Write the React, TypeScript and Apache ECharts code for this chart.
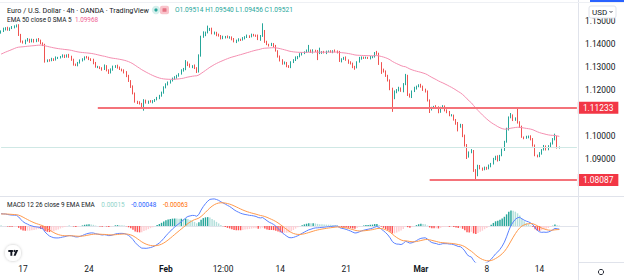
import React, { useEffect, useRef } from "react";
import * as echarts from "echarts";

// ---- data (EUR/USD, 4h) ----
const firstOpen = 1.145;
const closes = [
  1.1455, 1.1465, 1.147, 1.1462, 1.1468, 1.1472, 1.1478, 1.148, 1.144, 1.141,
  1.1405, 1.1415, 1.142, 1.141, 1.1418, 1.1412, 1.142, 1.1415, 1.1402, 1.1395,
  1.1325, 1.133, 1.1328, 1.1335, 1.1332, 1.134, 1.134, 1.1345, 1.135, 1.1345,
  1.1352, 1.1345, 1.133, 1.1312, 1.1308, 1.1318, 1.1328, 1.1335, 1.1342, 1.134,
  1.1335, 1.133, 1.1318, 1.13, 1.13, 1.1295, 1.129, 1.1305, 1.1285, 1.1275,
  1.129, 1.13, 1.1305, 1.1298, 1.129, 1.1285, 1.1278, 1.126, 1.124, 1.1215,
  1.1185, 1.115, 1.1145, 1.114, 1.113, 1.1155, 1.1145, 1.115, 1.1148, 1.1152,
  1.1158, 1.1165, 1.1175, 1.119, 1.121, 1.1225, 1.1232, 1.124, 1.125, 1.1255,
  1.1262, 1.127, 1.1285, 1.129, 1.132, 1.131, 1.13, 1.1305, 1.1295, 1.128,
  1.135, 1.143, 1.144, 1.145, 1.1462, 1.1465, 1.1445, 1.145, 1.144, 1.1435,
  1.1425, 1.143, 1.1432, 1.1428, 1.143, 1.142, 1.141, 1.1415, 1.142, 1.1418,
  1.1425, 1.143, 1.1435, 1.1432, 1.144, 1.1438, 1.1435, 1.142, 1.1435, 1.1455,
  1.141, 1.1398, 1.1395, 1.14, 1.139, 1.137, 1.1345, 1.133, 1.1315, 1.1318,
  1.1305, 1.13, 1.132, 1.133, 1.134, 1.1345, 1.1355, 1.136, 1.1365, 1.137,
  1.1372, 1.1365, 1.1372, 1.1368, 1.136, 1.1362, 1.1365, 1.1362, 1.1368, 1.1368,
  1.1365, 1.137, 1.1368, 1.1365, 1.1325, 1.1335, 1.134, 1.133, 1.132, 1.1315,
  1.13, 1.1298, 1.1322, 1.1338, 1.1342, 1.134, 1.134, 1.1338, 1.1342, 1.1345,
  1.136, 1.1358, 1.1315, 1.129, 1.128, 1.1262, 1.124, 1.1205, 1.1165, 1.119,
  1.12, 1.1208, 1.1195, 1.1225, 1.1262, 1.118, 1.117, 1.1195, 1.1208, 1.1215,
  1.1222, 1.1215, 1.12, 1.1195, 1.1155, 1.1115, 1.1122, 1.1128, 1.1125, 1.1105,
  1.1122, 1.113, 1.111, 1.1105, 1.109, 1.109, 1.107, 1.1055, 1.104, 1.1048,
  1.1, 1.096, 1.091, 1.093, 1.0935, 1.085, 1.084, 1.087, 1.086, 1.0855,
  1.0862, 1.0858, 1.087, 1.088, 1.09, 1.091, 1.0895, 1.0915, 1.094, 1.0975,
  1.103, 1.108, 1.109, 1.107, 1.1075, 1.106, 1.104, 1.0995, 1.0992, 1.0995,
  1.0998, 1.0985, 1.096, 1.0915, 1.0912, 1.0925, 1.094, 1.0955, 1.0942, 1.0955,
  1.0968, 1.0985, 1.0995, 1.09514, 1.09521,
];
const upWicksPips = [
  4, 6, 3, 5, 4, 6, 3, 5, 6, 4, 5, 4, 6, 3, 5, 4, 3, 6, 4, 5,
  6, 3, 4, 5, 3, 6, 4, 3, 5, 4, 3, 5, 4, 6, 3, 4, 5, 3, 4, 6,
  5, 3, 6, 4, 5, 3, 4, 6, 3, 5, 4, 6, 3, 5, 4, 3, 5, 4, 6, 3,
  5, 4, 3, 6, 4, 5, 3, 4, 6, 4, 3, 5, 4, 3, 6, 4, 5, 3, 4, 5,
  4, 3, 5, 6, 10, 4, 5, 3, 6, 4, 5, 6, 15, 4, 18, 5, 6, 4, 3, 5,
  4, 6, 3, 5, 4, 3, 6, 4, 5, 3, 5, 4, 6, 3, 5, 4, 3, 6, 4, 35,
  6, 4, 3, 5, 4, 6, 3, 5, 4, 6, 4, 3, 5, 4, 6, 3, 5, 4, 3, 6,
  24, 4, 5, 3, 6, 22, 4, 5, 3, 4, 5, 3, 6, 4, 5, 3, 4, 6, 3, 5,
  4, 5, 3, 6, 4, 3, 5, 4, 6, 3, 5, 10, 4, 6, 3, 5, 4, 6, 5, 8,
  4, 6, 3, 5, 8, 4, 5, 3, 6, 4, 3, 5, 4, 6, 3, 4, 5, 3, 6, 4,
  5, 4, 3, 6, 4, 5, 3, 4, 6, 5, 4, 6, 5, 3, 8, 4, 6, 5, 4, 3,
  5, 4, 6, 3, 5, 4, 6, 3, 5, 4, 6, 5, 10, 4, 6, 45, 4, 5, 3, 6,
  4, 5, 6, 3, 4, 5, 3, 6, 4, 5, 4, 6, 15, 5, 1.9,
];
const downWicksPips = [
  5, 3, 6, 4, 5, 3, 4, 6, 5, 4, 3, 6, 4, 5, 3, 6, 4, 5, 3, 4,
  6, 4, 5, 3, 6, 4, 5, 3, 4, 6, 4, 5, 3, 6, 4, 5, 3, 4, 6, 3,
  5, 4, 6, 3, 5, 4, 6, 3, 4, 5, 3, 6, 4, 5, 3, 4, 6, 4, 5, 6,
  4, 5, 6, 3, 10, 20, 4, 5, 3, 6, 4, 3, 5, 4, 6, 3, 5, 4, 3, 5,
  6, 4, 3, 5, 4, 6, 3, 5, 4, 6, 4, 5, 3, 6, 4, 5, 3, 4, 6, 3,
  5, 4, 6, 3, 5, 4, 3, 6, 4, 5, 3, 5, 4, 6, 3, 5, 4, 3, 6, 4,
  5, 3, 6, 4, 5, 3, 4, 6, 5, 4, 6, 4, 5, 3, 4, 6, 3, 5, 4, 3,
  5, 4, 6, 3, 30, 4, 5, 3, 6, 4, 3, 5, 4, 6, 3, 5, 4, 3, 6, 4,
  5, 10, 4, 3, 6, 5, 4, 3, 5, 4, 4, 5, 6, 20, 4, 5, 3, 6, 60, 5,
  4, 6, 3, 5, 4, 6, 3, 5, 4, 6, 3, 5, 4, 6, 5, 15, 4, 3, 5, 6,
  4, 5, 3, 6, 4, 5, 3, 6, 20, 4, 5, 6, 10, 4, 5, 6, 34, 15, 5, 6,
  4, 5, 3, 6, 4, 5, 6, 4, 3, 5, 4, 6, 3, 5, 4, 6, 5, 3, 6, 4,
  5, 4, 6, 3, 5, 4, 6, 3, 5, 4, 3, 5, 4, 6, 5.8,
];
const PIP = 0.0001;

// indicator starting values read at the left edge
const ema50Seed = 1.1352;
const ema12Seed = 1.1444;
const ema26Seed = 1.1416;
const signalSeed = 0.0026;

const emptyBarsRight = 8;
const xTickLabels = ["17", "24", "Feb", "12:00", "14", "21", "Mar", "8", "14"];
const xTickBars = [10, 40, 75, 101, 127, 157, 191, 221, 245];
const boldTickLabels = ["Feb", "Mar"];

const levelValues = [1.11233, 1.08087];
const levelStartBars = [44, 195];

const priceMin = 1.07;
const priceMax = 1.158;
const priceStep = 0.01;
const macdMin = -0.0078;
const macdMax = 0.0063;

const legendTitle = "Euro / U.S. Dollar · 4h · OANDA · TradingView";
const legendOHLC = "O1.09514 H1.09540 L1.09456 C1.09521";
const legendEma = "EMA 50 close 0 SMA 5";
const legendEmaValue = "1.09968";
const legendMacd = "MACD 12 26 close 9 EMA EMA";
const legendMacdValues = ["0.00015", "-0.00048", "-0.00063"];

const FONT = 'Roboto, "Noto Sans", sans-serif';
const UP = "#26a69a";
const DOWN = "#ef5350";

function emaOf(values: number[], period: number, seed: number) {
  const a = 2 / (period + 1);
  let e = seed;
  return values.map((v) => (e = e + a * (v - e)));
}

export default function App() {
  const ref = useRef<HTMLDivElement>(null);
  useEffect(() => {
    if (!ref.current) return;
    const chart = echarts.init(ref.current, null, { renderer: "svg" });

    const n = closes.length;
    const total = n + emptyBarsRight;
    const categories = Array.from({ length: total }, (_, i) => String(i));
    const opens = closes.map((c, i) => (i === 0 ? firstOpen : closes[i - 1]));
    const candleData = closes.map((c, i) => {
      const o = opens[i];
      return [
        o,
        c,
        Math.min(o, c) - downWicksPips[i] * PIP,
        Math.max(o, c) + upWicksPips[i] * PIP,
      ];
    });
    const ema50 = emaOf(closes, 50, ema50Seed);
    const e12 = emaOf(closes, 12, ema12Seed);
    const e26 = emaOf(closes, 26, ema26Seed);
    const macd = e12.map((v, i) => v - e26[i]);
    const signal = emaOf(macd, 9, signalSeed);
    const hist = macd.map((v, i) => v - signal[i]);
    const histData = hist.map((h, i) => {
      const prev = i === 0 ? h : hist[i - 1];
      let color;
      if (h >= 0) color = h >= prev ? "#26a69a" : "#b2dfdb";
      else color = h < prev ? "#ff5252" : "#ffcdd2";
      return { value: h, itemStyle: { color } };
    });
    const tickMap: Record<number, string> = {};
    xTickBars.forEach((b, k) => (tickMap[b] = xTickLabels[k]));
    const lastBar = total - 1;
    const lastClose = closes[n - 1];

    const levelLines = levelValues.map((v, k) => [
      {
        coord: [String(levelStartBars[k]), v],
        lineStyle: { color: "#f4737a", width: 2, type: "solid" },
        label: {
          show: true,
          position: "end",
          distance: 1,
          formatter: v.toFixed(5),
          color: "#ffffff",
          backgroundColor: "#f23645",
          padding: [2, 5, 2, 5],
          fontSize: 8.4,
          fontFamily: FONT,
        },
      },
      { coord: [String(lastBar), v] },
    ]);
    const lastPriceLine = [
      {
        coord: ["0", lastClose],
        lineStyle: { color: "#cfe8e5", width: 1, type: "solid" },
        label: { show: false },
      },
      { coord: [String(lastBar), lastClose] },
    ];
    // tick labels hidden where the level boxes cover them in the reference
    const coveredByLevel = (v: number) => levelValues.some((l) => Math.abs(l - v) < 0.004);

    const option: any = {
      animation: false,
      backgroundColor: "#ffffff",
      grid: [
        { left: 0, right: 46, top: 2.6, height: 202.4 },
        { left: 0, right: 46, top: 197, height: 65 },
      ],
      xAxis: [
        {
          type: "category",
          gridIndex: 0,
          data: categories,
          boundaryGap: true,
          axisLine: { show: false },
          axisTick: { show: false },
          axisLabel: { show: false },
          splitLine: { show: false },
        },
        {
          type: "category",
          gridIndex: 1,
          data: categories,
          boundaryGap: true,
          axisLine: { show: true, lineStyle: { color: "#e0e3eb", width: 1 } },
          axisTick: { show: false },
          splitLine: { show: false },
          axisLabel: {
            show: true,
            margin: 3,
            color: "#131722",
            fontSize: 8.4,
            fontFamily: FONT,
            interval: (index: number) => tickMap[index] !== undefined,
            formatter: (_v: string, index: number) => {
              const t = tickMap[index];
              if (t === undefined) return "";
              return boldTickLabels.includes(t) ? `{b|${t}}` : t;
            },
            rich: {
              b: { fontWeight: "bold", fontSize: 8.4, fontFamily: FONT, color: "#131722" },
            },
          },
        },
      ],
      yAxis: [
        {
          type: "value",
          gridIndex: 0,
          position: "right",
          min: priceMin,
          max: priceMax,
          interval: priceStep,
          axisLine: { show: false },
          axisTick: { show: false },
          splitLine: { show: false },
          axisLabel: {
            show: true,
            margin: 7,
            color: "#131722",
            fontSize: 8.4,
            fontFamily: FONT,
            formatter: (v: number) =>
              v < priceMin + priceStep / 2 || v > priceMax - priceStep / 2 || coveredByLevel(v)
                ? ""
                : v.toFixed(5),
          },
        },
        {
          type: "value",
          gridIndex: 1,
          position: "right",
          min: macdMin,
          max: macdMax,
          show: false,
          splitLine: { show: false },
        },
      ],
      series: [
        {
          type: "candlestick",
          xAxisIndex: 0,
          yAxisIndex: 0,
          data: candleData,
          barWidth: 1,
          itemStyle: {
            color: UP,
            color0: DOWN,
            borderColor: UP,
            borderColor0: DOWN,
            borderWidth: 1,
          },
          markLine: {
            silent: true,
            symbol: ["none", "none"],
            animation: false,
            data: [lastPriceLine, ...levelLines],
          },
        },
        {
          type: "line",
          xAxisIndex: 0,
          yAxisIndex: 0,
          data: ema50,
          showSymbol: false,
          lineStyle: { color: "#f48fb1", width: 1 },
          z: 3,
        },
        {
          type: "bar",
          xAxisIndex: 1,
          yAxisIndex: 1,
          data: histData,
          barWidth: "65%",
          markLine: {
            silent: true,
            symbol: ["none", "none"],
            lineStyle: { opacity: 0 },
            label: {
              show: true,
              position: "end",
              distance: 7,
              formatter: "0.00000",
              color: "#131722",
              fontSize: 8.4,
              fontFamily: FONT,
            },
            data: [[{ coord: ["0", 0] }, { coord: [String(lastBar), 0] }]],
          },
        },
        {
          type: "line",
          xAxisIndex: 1,
          yAxisIndex: 1,
          data: macd,
          showSymbol: false,
          lineStyle: { color: "#5b82ff", width: 1 },
          z: 4,
        },
        {
          type: "line",
          xAxisIndex: 1,
          yAxisIndex: 1,
          data: signal,
          showSymbol: false,
          lineStyle: { color: "#ff9a4d", width: 1 },
          z: 4,
        },
      ],
      graphic: [
        { type: "line", shape: { x1: 0, y1: 196.5, x2: 624, y2: 196.5 }, style: { stroke: "#e0e3eb", lineWidth: 1 }, z: 10 },
        { type: "line", shape: { x1: 578.5, y1: 0, x2: 578.5, y2: 280 }, style: { stroke: "#e0e3eb", lineWidth: 1 }, z: 10 },
        { type: "line", shape: { x1: 578, y1: 262.5, x2: 624, y2: 262.5 }, style: { stroke: "#e0e3eb", lineWidth: 1 }, z: 10 },
        { type: "line", shape: { x1: 0, y1: 2.5, x2: 624, y2: 2.5 }, style: { stroke: "#eef0f4", lineWidth: 1 }, z: 10 },
        { type: "rect", shape: { x: 590, y: 0, width: 34, height: 2 }, style: { fill: "#2962ff" }, z: 11 },
        {
          type: "rect",
          shape: { x: 589, y: 6, width: 27, height: 12, r: 2 },
          style: { fill: "#ffffff", stroke: "#e0e3eb", lineWidth: 1 },
          z: 11,
        },
        {
          type: "text",
          z: 12,
          style: { text: "USD", x: 592, y: 12, fill: "#131722", fontSize: 8, fontFamily: FONT, verticalAlign: "middle" },
        },
        {
          type: "polyline",
          z: 12,
          shape: { points: [[609.5, 11], [611, 12.5], [612.5, 11]] },
          style: { stroke: "#131722", lineWidth: 0.8, fill: "none" },
        },
        {
          type: "text",
          z: 12,
          style: { text: legendTitle, x: 7, y: 10, fill: "#131722", fontSize: 7.2, fontFamily: FONT, verticalAlign: "middle" },
        },
        { type: "circle", z: 12, shape: { cx: 156, cy: 10, r: 4.2 }, style: { fill: "#d5efec" } },
        { type: "circle", z: 13, shape: { cx: 156, cy: 10, r: 1.6 }, style: { fill: UP } },
        { type: "rect", z: 12, shape: { x: 160, y: 5.8, width: 9, height: 8.4, r: 2 }, style: { fill: "#f9c3cb" } },
        { type: "rect", z: 13, shape: { x: 162.5, y: 8.3, width: 4, height: 3.4, r: 0.5 }, style: { fill: "#e57384" } },
        {
          type: "text",
          z: 12,
          style: { text: legendOHLC, x: 175, y: 10, fill: UP, fontSize: 6.6, fontFamily: FONT, verticalAlign: "middle" },
        },
        {
          type: "text",
          z: 12,
          style: {
            text: `{a|${legendEma}} {b|${legendEmaValue}}`,
            x: 7,
            y: 19.5,
            verticalAlign: "middle",
            rich: {
              a: { fill: "#131722", fontSize: 6.4, fontFamily: FONT },
              b: { fill: "#f06292", fontSize: 6.4, fontFamily: FONT },
            },
          },
        },
        {
          type: "text",
          z: 12,
          style: {
            text: `{a|${legendMacd}}  {h|${legendMacdValues[0]}}  {m|${legendMacdValues[1]}}  {s|${legendMacdValues[2]}}`,
            x: 7,
            y: 204.5,
            verticalAlign: "middle",
            rich: {
              a: { fill: "#131722", fontSize: 6.4, fontFamily: FONT },
              h: { fill: "#8fd3c9", fontSize: 6.4, fontFamily: FONT },
              m: { fill: "#2962ff", fontSize: 6.4, fontFamily: FONT },
              s: { fill: "#ff6d00", fontSize: 6.4, fontFamily: FONT },
            },
          },
        },
        {
          type: "circle",
          z: 12,
          shape: { cx: 13, cy: 253, r: 8 },
          style: { fill: "#ffffff", shadowBlur: 3, shadowColor: "rgba(0,0,0,0.25)" },
        },
        { type: "rect", z: 13, shape: { x: 8.3, y: 250, width: 4.6, height: 1.9 }, style: { fill: "#131722" } },
        { type: "rect", z: 13, shape: { x: 10.4, y: 250, width: 1.9, height: 5.8 }, style: { fill: "#131722" } },
        { type: "circle", z: 13, shape: { cx: 14.4, cy: 251, r: 1 }, style: { fill: "#131722" } },
        {
          type: "polygon",
          z: 13,
          shape: { points: [[15.8, 250], [18.2, 250], [15.6, 255.8], [13.6, 255.8]] },
          style: { fill: "#131722" },
        },
        {
          type: "circle",
          z: 12,
          shape: { cx: 601, cy: 272, r: 2.6 },
          style: { fill: "none", stroke: "#131722", lineWidth: 0.9 },
        },
      ],
    };
    chart.setOption(option);
    return () => chart.dispose();
  }, []);
  return (
    <div
      ref={ref}
      style={{ position: "fixed", left: 0, top: 0, width: 624, height: 280, background: "#fff" }}
    />
  );
}
